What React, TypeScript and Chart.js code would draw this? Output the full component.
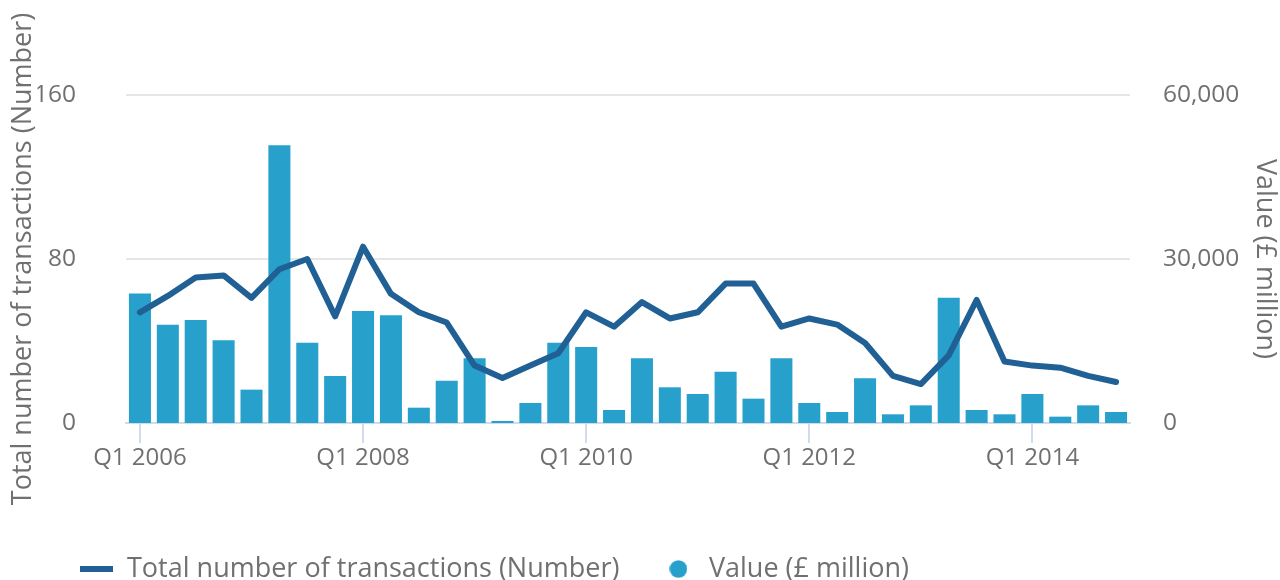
import React, { useEffect, useRef } from "react";
import { Chart, registerables } from "chart.js";

Chart.register(...registerables);

const quarters = [
  "Q1 2006", "Q2 2006", "Q3 2006", "Q4 2006",
  "Q1 2007", "Q2 2007", "Q3 2007", "Q4 2007",
  "Q1 2008", "Q2 2008", "Q3 2008", "Q4 2008",
  "Q1 2009", "Q2 2009", "Q3 2009", "Q4 2009",
  "Q1 2010", "Q2 2010", "Q3 2010", "Q4 2010",
  "Q1 2011", "Q2 2011", "Q3 2011", "Q4 2011",
  "Q1 2012", "Q2 2012", "Q3 2012", "Q4 2012",
  "Q1 2013", "Q2 2013", "Q3 2013", "Q4 2013",
  "Q1 2014", "Q2 2014", "Q3 2014", "Q4 2014",
];

const transactions = [
  54, 62, 71, 72, 61, 75, 80, 52,
  86, 63, 54, 49, 28, 22, 28, 34,
  54, 47, 59, 51, 54, 68, 68, 47,
  51, 48, 39, 23, 19, 33, 60, 30,
  28, 27, 23, 20,
];

const valueMillions = [
  23700, 17980, 18840, 15120, 6100, 50790, 14690, 8600,
  20490, 19690, 2800, 7740, 11830, 370, 3660, 14690,
  13900, 2380, 11830, 6530, 5300, 9390, 4450, 11830,
  3660, 2010, 8170, 1590, 3230, 22920, 2380, 1590,
  5300, 1160, 3230, 2010,
];

const leftTicks = [0, 80, 160];
const rightTicks = [0, 30000, 60000];

const lineLabel = "Total number of transactions (Number)";
const barLabel = "Value (£ million)";

const LINE_COLOR = "#206095";
const BAR_COLOR = "#27a0cc";
const TEXT_COLOR = "#707071";
const FONT = "'Open Sans', sans-serif";

export default function App() {
  const canvasRef = useRef<HTMLCanvasElement | null>(null);

  useEffect(() => {
    document.body.style.margin = "0";
    const canvas = canvasRef.current;
    if (!canvas) return;

    const lineMarker = document.createElement("canvas");
    lineMarker.width = 33;
    lineMarker.height = 6;
    const lctx = lineMarker.getContext("2d")!;
    lctx.fillStyle = LINE_COLOR;
    lctx.fillRect(0, 0, 33, 6);

    const dotMarker = document.createElement("canvas");
    dotMarker.width = 18;
    dotMarker.height = 18;
    const dctx = dotMarker.getContext("2d")!;
    dctx.fillStyle = BAR_COLOR;
    dctx.beginPath();
    dctx.arc(9, 9, 8.8, 0, Math.PI * 2);
    dctx.fill();

    const chart = new Chart(canvas, {
      data: {
        labels: quarters,
        datasets: [
          {
            type: "line",
            label: lineLabel,
            data: transactions,
            yAxisID: "y",
            borderColor: LINE_COLOR,
            backgroundColor: LINE_COLOR,
            borderWidth: 6,
            pointRadius: 0,
            tension: 0,
            borderJoinStyle: "round",
            borderCapStyle: "round",
          },
          {
            type: "bar",
            label: barLabel,
            data: valueMillions,
            yAxisID: "y1",
            backgroundColor: BAR_COLOR,
            borderWidth: 0,
            barPercentage: 0.79,
            categoryPercentage: 1,
          },
        ],
      },
      options: {
        responsive: false,
        animation: false,
        layout: { padding: { top: 95, left: 37.5, right: 0, bottom: -12.5 } },
        plugins: {
          tooltip: { enabled: false },
          legend: {
            position: "bottom",
            align: "start",
            labels: {
              usePointStyle: true,
              pointStyleWidth: 34,
              padding: 42,
              color: TEXT_COLOR,
              font: { family: FONT, size: 27 },
              generateLabels: (c: any) => {
                const items = Chart.defaults.plugins.legend.labels.generateLabels(c);
                return items.map((it: any, i: number) => ({
                  ...it,
                  pointStyle: i === 0 ? lineMarker : dotMarker,
                }));
              },
            },
          },
        },
        scales: {
          x: {
            offset: true,
            grid: {
              offset: false,
              drawOnChartArea: false,
              drawTicks: true,
              tickLength: 20,
              lineWidth: 2,
              color: (ctx: any) => (ctx.index % 8 === 0 ? "#d0dcee" : "rgba(0,0,0,0)"),
            },
            border: { display: true, color: "#d0dcee", width: 2 },
            ticks: {
              autoSkip: false,
              maxRotation: 0,
              padding: 1,
              color: TEXT_COLOR,
              font: { family: FONT, size: 24 },
              callback: (_v: any, i: number) => (i % 8 === 0 ? quarters[i] : ""),
            },
            afterFit: (s: any) => {
              s.height = 90.5;
            },
          },
          y: {
            position: "left",
            min: 0,
            max: 160,
            afterBuildTicks: (s: any) => {
              s.ticks = leftTicks.map((v) => ({ value: v }));
            },
            grid: {
              drawTicks: false,
              lineWidth: 2,
              color: (ctx: any) => (ctx.tick && ctx.tick.value === 0 ? "rgba(0,0,0,0)" : "#e6e6e6"),
            },
            border: { display: false },
            ticks: {
              padding: 50,
              color: TEXT_COLOR,
              font: { family: FONT, size: 24.5 },
            },
            title: {
              display: true,
              text: lineLabel,
              color: TEXT_COLOR,
              font: { family: FONT, size: 27 },
              padding: { top: -30.7, bottom: 0 },
            },
            afterFit: (s: any) => {
              s.width = 88.5;
            },
          },
          y1: {
            position: "right",
            min: 0,
            max: 60000,
            afterBuildTicks: (s: any) => {
              s.ticks = rightTicks.map((v) => ({ value: v }));
            },
            grid: { display: false, drawTicks: false },
            border: { display: false },
            ticks: {
              padding: 33,
              color: TEXT_COLOR,
              font: { family: FONT, size: 24.5 },
            },
            title: {
              display: true,
              text: barLabel,
              color: TEXT_COLOR,
              font: { family: FONT, size: 27 },
              padding: { top: -1.2, bottom: 0 },
            },
            afterFit: (s: any) => {
              s.width = 150;
            },
          },
        },
      },
    });

    return () => {
      chart.destroy();
    };
  }, []);

  return (
    <div style={{ width: 1280, height: 580, position: "relative" }}>
      <canvas ref={canvasRef} width={1280} height={580} style={{ display: "block" }} />
    </div>
  );
}
